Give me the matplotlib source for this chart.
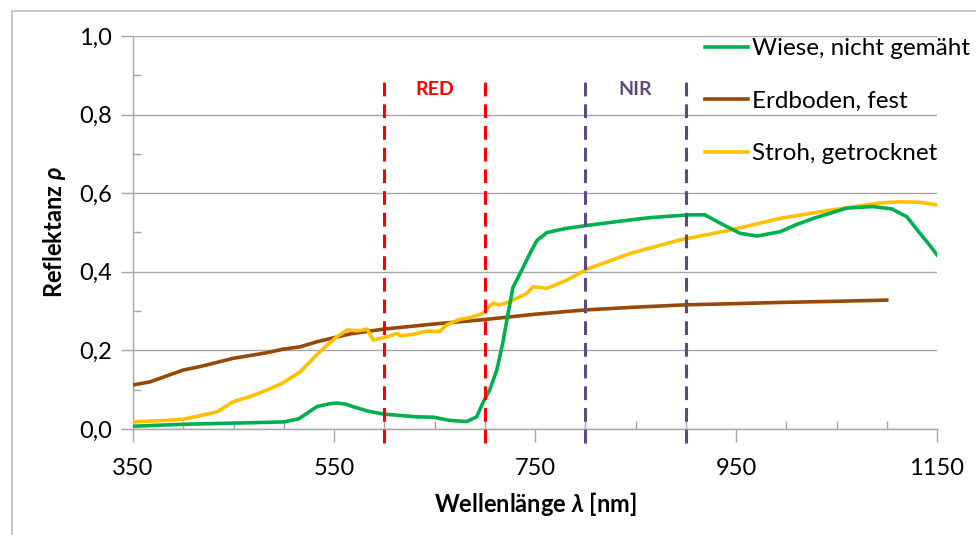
import matplotlib.pyplot as plt
from matplotlib.patches import Rectangle
from matplotlib.ticker import MultipleLocator, FuncFormatter

plt.rcParams['font.family'] = ['Lato', 'DejaVu Sans']
plt.rcParams['mathtext.fontset'] = 'custom'
plt.rcParams['mathtext.it'] = 'Lato:italic:bold'
plt.rcParams['mathtext.rm'] = 'Lato:bold'

# --- Daten ---
wiese_nm = [350, 400, 450, 500, 515, 533, 545, 553, 562, 570, 583, 599, 632, 649, 665, 682,
            692, 698, 705, 712, 718, 722, 728, 737, 745, 752, 762, 780, 799, 820, 845,
            865, 887, 905, 919, 934, 954, 971, 994, 1010, 1027, 1045, 1060, 1086,
            1105, 1120, 1133, 1142, 1150]
wiese = [0.007, 0.012, 0.015, 0.018, 0.026, 0.057, 0.064, 0.066, 0.063, 0.056, 0.046,
         0.038, 0.031, 0.030, 0.022, 0.019, 0.031, 0.066, 0.10, 0.15, 0.22, 0.277, 0.36,
         0.405, 0.447, 0.48, 0.50, 0.51, 0.517, 0.524, 0.532, 0.538, 0.542, 0.545, 0.545,
         0.524, 0.498, 0.491, 0.502, 0.52, 0.536, 0.55, 0.562, 0.566, 0.56, 0.54, 0.498,
         0.47, 0.443]

boden_nm = [350, 367, 400, 417, 450, 483, 499, 516, 533, 566, 599, 649, 698, 750,
            800, 850, 900, 950, 994, 1050, 1100]
boden = [0.112, 0.12, 0.15, 0.159, 0.18, 0.194, 0.203, 0.209, 0.222, 0.242, 0.254,
         0.267, 0.278, 0.292, 0.303, 0.31, 0.316, 0.319, 0.322, 0.325, 0.328]

stroh_nm = [350, 384, 400, 417, 434, 450, 466, 483, 499, 516, 536, 553, 563, 574,
            583, 589, 603, 613, 616, 629, 642, 655, 662, 675, 685, 698, 708, 715,
            725, 742, 748, 762, 782, 802, 845, 894, 944, 994, 1044, 1093, 1110,
            1133, 1150]
stroh = [0.018, 0.022, 0.025, 0.034, 0.044, 0.07, 0.082, 0.099, 0.117, 0.145, 0.197,
         0.235, 0.252, 0.25, 0.254, 0.226, 0.235, 0.243, 0.237, 0.241, 0.249, 0.248,
         0.265, 0.279, 0.283, 0.294, 0.32, 0.316, 0.324, 0.345, 0.362, 0.358, 0.379,
         0.407, 0.447, 0.481, 0.506, 0.536, 0.557, 0.575, 0.578, 0.577, 0.57]

x_ticks = [350, 550, 750, 950, 1150]
red_band = [600, 700]
nir_band = [800, 900]

fig = plt.figure(figsize=(9.76, 5.35), dpi=100)
ax = fig.add_axes([133 / 976, 1 - 429 / 535, 804 / 976, 393 / 535])

# Rahmen um das Diagramm (rechts und unten abgeschnitten)
fig.add_artist(Rectangle((12 / 976, -0.1), 1.2, 1.1 - 11 / 535, transform=fig.transFigure,
                         fill=False, edgecolor='#bfbfbf', linewidth=1.2))

ax.plot(wiese_nm, wiese, color='#00b050', lw=2.6, label='Wiese, nicht gemäht', zorder=4)
ax.plot(boden_nm, boden, color='#984807', lw=2.6, label='Erdboden, fest', zorder=3)
ax.plot(stroh_nm, stroh, color='#ffc000', lw=2.6, label='Stroh, getrocknet', zorder=3)

for x in red_band:
    ax.plot([x, x], [-0.035, 0.9], color='#ff0000', lw=2.2, ls=(0, (4.5, 2.6)),
            clip_on=False, zorder=5)
for x in nir_band:
    ax.plot([x, x], [-0.035, 0.9], color='#604a7b', lw=2.2, ls=(0, (4.5, 2.6)),
            clip_on=False, zorder=5)

ax.text(sum(red_band) / 2, 0.865, 'RED', color='#ff0000', fontsize=14,
        fontweight='bold', ha='center', va='center')
ax.text(sum(nir_band) / 2, 0.865, 'NIR', color='#604a7b', fontsize=14,
        fontweight='bold', ha='center', va='center')

ax.set_xlim(350, 1150)
ax.set_ylim(0, 1.0)
ax.set_xticks(x_ticks)
ax.xaxis.set_minor_locator(MultipleLocator(50))
ax.yaxis.set_major_locator(MultipleLocator(0.2))
ax.yaxis.set_minor_locator(MultipleLocator(0.1))
ax.yaxis.set_major_formatter(FuncFormatter(lambda v, p: f'{v:.1f}'.replace('.', ',')))

ax.grid(True, which='major', axis='y', color='#a6a6a6', lw=1)
ax.set_axisbelow(True)
for s in ['top', 'right']:
    ax.spines[s].set_visible(False)
for s in ['left', 'bottom']:
    ax.spines[s].set_color('#a6a6a6')
    ax.spines[s].set_linewidth(1)

ax.tick_params(which='major', axis='both', direction='out', length=9, width=1,
               color='#a6a6a6', labelsize=17, labelcolor='black')
ax.tick_params(which='minor', axis='both', direction='in', length=6, width=1,
               color='#a6a6a6')
ax.tick_params(axis='x', pad=12)
ax.tick_params(axis='y', pad=6)

ax.set_xlabel('Wellenlänge $\\lambda$ [nm]', fontsize=17, fontweight='bold', labelpad=8)
ax.set_ylabel('Reflektanz $\\rho$', fontsize=17, fontweight='bold', labelpad=8)

ax.legend(loc='upper left', bbox_to_anchor=(705 / 976, 1 - 38 / 535),
          bbox_transform=fig.transFigure, frameon=False, fontsize=17.5,
          handlelength=1.75, handletextpad=0.2, labelspacing=1.3,
          borderpad=0, borderaxespad=0)

fig.savefig('out.png', dpi=100)
